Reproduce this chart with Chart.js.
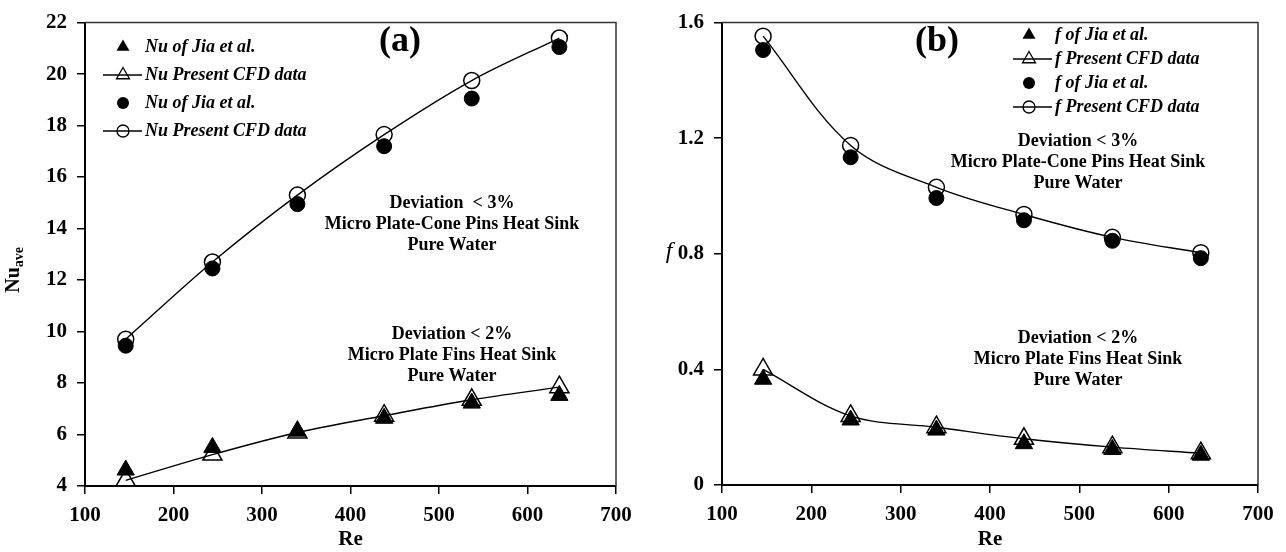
<!DOCTYPE html>
<html lang="en">
<head>
<meta charset="UTF-8">
<title>Nu and f versus Re</title>
<style>
  html, body { margin: 0; padding: 0; background: #fff; }
  .panel { position: absolute; top: 0; width: 643px; height: 552px; }
  #panel-a { left: 0; }
  #panel-b { left: 643px; }
</style>
</head>
<body>
<div class="panel" id="panel-a"><canvas id="chart-a" width="643" height="552"></canvas></div>
<div class="panel" id="panel-b"><canvas id="chart-b" width="643" height="552"></canvas></div>

<script src="https://cdn.jsdelivr.net/npm/chart.js"></script>
<script>
// Reynolds numbers of the six simulated cases
const reValues = [146, 244, 340, 438, 537, 636];

// (a) average Nusselt number
const nuPlateJia = [4.62, 5.5, 6.13, 6.63, 7.22, 7.52];
const nuPlateCfd = [4.22, 5.22, 6.08, 6.73, 7.35, 7.84];
const nuConeJia  = [9.45, 12.45, 14.95, 17.2, 19.05, 21.05];
const nuConeCfd  = [9.7, 12.7, 15.3, 17.65, 19.75, 21.4];

// (b) friction factor
const fPlateJia = [0.366, 0.225, 0.19, 0.143, 0.123, 0.103];
const fPlateCfd = [0.40, 0.239, 0.2, 0.16, 0.131, 0.11];
const fConeJia  = [1.505, 1.134, 0.993, 0.916, 0.845, 0.785];
const fConeCfd  = [1.553, 1.175, 1.03, 0.936, 0.857, 0.804];

// tick labels
const reTicks = [100, 200, 300, 400, 500, 600, 700];
const nuTicks = [4, 6, 8, 10, 12, 14, 16, 18, 20, 22];
const fTicks  = [0, 0.4, 0.8, 1.2, 1.6];

const SERIF = '"Liberation Serif", "Times New Roman", serif';
Chart.defaults.font.family = SERIF;
Chart.defaults.color = '#000';

const pts = ys => ys.map((y, i) => ({ x: reValues[i], y }));

function cfdSet(ys, style, r) {
  return {
    data: pts(ys), showLine: true, borderColor: '#000', borderWidth: 1.4, tension: 0.35,
    pointStyle: style, pointRadius: r, pointHoverRadius: r, pointBorderWidth: 1.5,
    pointBackgroundColor: 'rgba(0,0,0,0)', pointBorderColor: '#000', clip: false, order: 2
  };
}
function jiaSet(ys, style, r) {
  return {
    data: pts(ys), showLine: false, pointStyle: style, pointRadius: r, pointHoverRadius: r,
    pointBorderWidth: 1, pointBackgroundColor: '#000', pointBorderColor: '#000', clip: false, order: 1
  };
}

function xAxis(h) {
  return {
    type: 'linear', min: 100, max: 700,
    afterBuildTicks: s => { s.ticks = reTicks.map(v => ({ value: v })); },
    afterFit: s => { s.height = h; },
    grid: { drawOnChartArea: false, drawTicks: true, tickLength: 8, color: '#000', lineWidth: 1.5 },
    border: { color: '#000', width: 2 },
    ticks: { font: { size: 21, weight: 'bold' }, padding: 9, maxRotation: 0 },
    title: { display: true, text: 'Re', font: { size: 21, weight: 'bold' }, padding: { top: 0, bottom: 0 } }
  };
}
function yAxis(min, max, ticks, w, fmt) {
  return {
    type: 'linear', min, max,
    afterBuildTicks: s => { s.ticks = ticks.map(v => ({ value: v })); },
    afterFit: s => { s.width = w; },
    grid: { drawOnChartArea: false, drawTicks: true, tickLength: 8, color: '#000', lineWidth: 1.5 },
    border: { color: '#000', width: 2 },
    ticks: { font: { size: 21, weight: 'bold' }, padding: 10, callback: fmt }
  };
}

// open frame on top and right, plus text, legend and axis titles
function drawMarker(ctx, style, filled, x, y, r) {
  ctx.beginPath();
  if (style === 'triangle') {
    ctx.moveTo(x, y - r);
    ctx.lineTo(x + r * 0.866, y + r * 0.5);
    ctx.lineTo(x - r * 0.866, y + r * 0.5);
    ctx.closePath();
  } else {
    ctx.arc(x, y, r, 0, Math.PI * 2);
  }
  if (filled) { ctx.fillStyle = '#000'; ctx.fill(); }
  else { ctx.lineWidth = 1.3; ctx.strokeStyle = '#000'; ctx.stroke(); }
}

const decorPlugin = {
  id: 'decor',
  beforeDatasetsDraw(chart) {
    const { ctx, chartArea: a } = chart;
    ctx.save();
    ctx.strokeStyle = '#333';
    ctx.lineWidth = 1.5;
    ctx.beginPath();
    ctx.moveTo(a.left, a.top);
    ctx.lineTo(a.right, a.top);
    ctx.lineTo(a.right, a.bottom);
    ctx.stroke();
    ctx.restore();
  },
  afterDraw(chart, args, o) {
    const ctx = chart.ctx;
    ctx.save();
    ctx.fillStyle = '#000';
    ctx.textBaseline = 'middle';

    // panel tag
    ctx.textAlign = 'center';
    ctx.font = 'bold 36px ' + SERIF;
    ctx.fillText(o.tag.text, o.tag.x, o.tag.y);

    // annotation blocks
    ctx.font = 'bold 18px ' + SERIF;
    o.notes.forEach(n => n.lines.forEach((t, i) => ctx.fillText(t, n.x, n.y + i * n.dy)));

    // legend
    const lg = o.legend;
    ctx.textAlign = 'left';
    ctx.font = 'bold italic 18px ' + SERIF;
    lg.items.forEach((it, i) => {
      const y = lg.y + i * lg.dy;
      if (it.line) {
        ctx.strokeStyle = '#000';
        ctx.lineWidth = 1.3;
        ctx.beginPath();
        ctx.moveTo(lg.lineX0, y);
        ctx.lineTo(lg.lineX1, y);
        ctx.stroke();
      }
      drawMarker(ctx, it.style, it.filled, lg.mx, y, it.style === 'triangle' ? 7.5 : 6);
      ctx.fillText(it.label, lg.tx, y);
    });

    // y-axis title
    ctx.translate(o.ytitle.x, o.ytitle.y);
    if (o.ytitle.rotate) ctx.rotate(-Math.PI / 2);
    o.ytitle.draw(ctx);
    ctx.restore();
  }
};

function makeChart(id, datasets, yScale, xh, pad, decor) {
  return new Chart(document.getElementById(id), {
    type: 'scatter',
    data: { datasets },
    options: {
      responsive: false, animation: false,
      layout: { padding: pad },
      plugins: { legend: { display: false }, tooltip: { enabled: false }, decor },
      scales: { x: xAxis(xh), y: yScale }
    },
    plugins: [decorPlugin]
  });
}

makeChart('chart-a', [
  jiaSet(nuPlateJia, 'triangle', 10),
  jiaSet(nuConeJia, 'circle', 7.5),
  cfdSet(nuPlateCfd, 'triangle', 11),
  cfdSet(nuConeCfd, 'circle', 8)
], yAxis(4, 22, nuTicks, 85), 66, { top: 15, right: 27, left: 0, bottom: 0 }, {
  tag: { text: '(a)', x: 400, y: 42 },
  notes: [
    { x: 452, y: 203, dy: 21, lines: ['Deviation  < 3%', 'Micro Plate-Cone Pins Heat Sink', 'Pure Water'] },
    { x: 452, y: 334, dy: 21, lines: ['Deviation < 2%', 'Micro Plate Fins Heat Sink', 'Pure Water'] }
  ],
  legend: {
    y: 47, dy: 28, mx: 123, lineX0: 103, lineX1: 142, tx: 145,
    items: [
      { label: 'Nu of Jia et al.', style: 'triangle', filled: true, line: false },
      { label: 'Nu Present CFD data', style: 'triangle', filled: false, line: true },
      { label: 'Nu of Jia et al.', style: 'circle', filled: true, line: false },
      { label: 'Nu Present CFD data', style: 'circle', filled: false, line: true }
    ]
  },
  ytitle: {
    x: 14, y: 268, rotate: true,
    draw(ctx) {
      ctx.textAlign = 'left';
      ctx.font = 'bold 20px ' + SERIF;
      const w = ctx.measureText('Nu').width;
      const x0 = -(w + 24) / 2;
      ctx.fillText('Nu', x0, 0);
      ctx.font = 'bold 14px ' + SERIF;
      ctx.fillText('ave', x0 + w, 5);
    }
  }
});

makeChart('chart-b', [
  jiaSet(fPlateJia, 'triangle', 10),
  jiaSet(fConeJia, 'circle', 7.5),
  cfdSet(fPlateCfd, 'triangle', 11),
  cfdSet(fConeCfd, 'circle', 8)
], yAxis(0, 1.6, fTicks, 79, v => (v === 0 ? '0' : v.toFixed(1))), 67, { top: 16, right: 28, left: 0, bottom: 0 }, {
  tag: { text: '(b)', x: 294, y: 42 },
  notes: [
    { x: 435, y: 141, dy: 21, lines: ['Deviation < 3%', 'Micro Plate-Cone Pins Heat Sink', 'Pure Water'] },
    { x: 435, y: 338, dy: 21, lines: ['Deviation < 2%', 'Micro Plate Fins Heat Sink', 'Pure Water'] }
  ],
  legend: {
    y: 35, dy: 24, mx: 386, lineX0: 370, lineX1: 409, tx: 412,
    items: [
      { label: 'f of Jia et al.', style: 'triangle', filled: true, line: false },
      { label: 'f Present CFD data', style: 'triangle', filled: false, line: true },
      { label: 'f of Jia et al.', style: 'circle', filled: true, line: false },
      { label: 'f Present CFD data', style: 'circle', filled: false, line: true }
    ]
  },
  ytitle: {
    x: 26, y: 252, rotate: false,
    draw(ctx) {
      ctx.textAlign = 'center';
      ctx.font = 'italic 24px ' + SERIF;
      ctx.fillText('f', 0, 0);
    }
  }
});
</script>
</body>
</html>
